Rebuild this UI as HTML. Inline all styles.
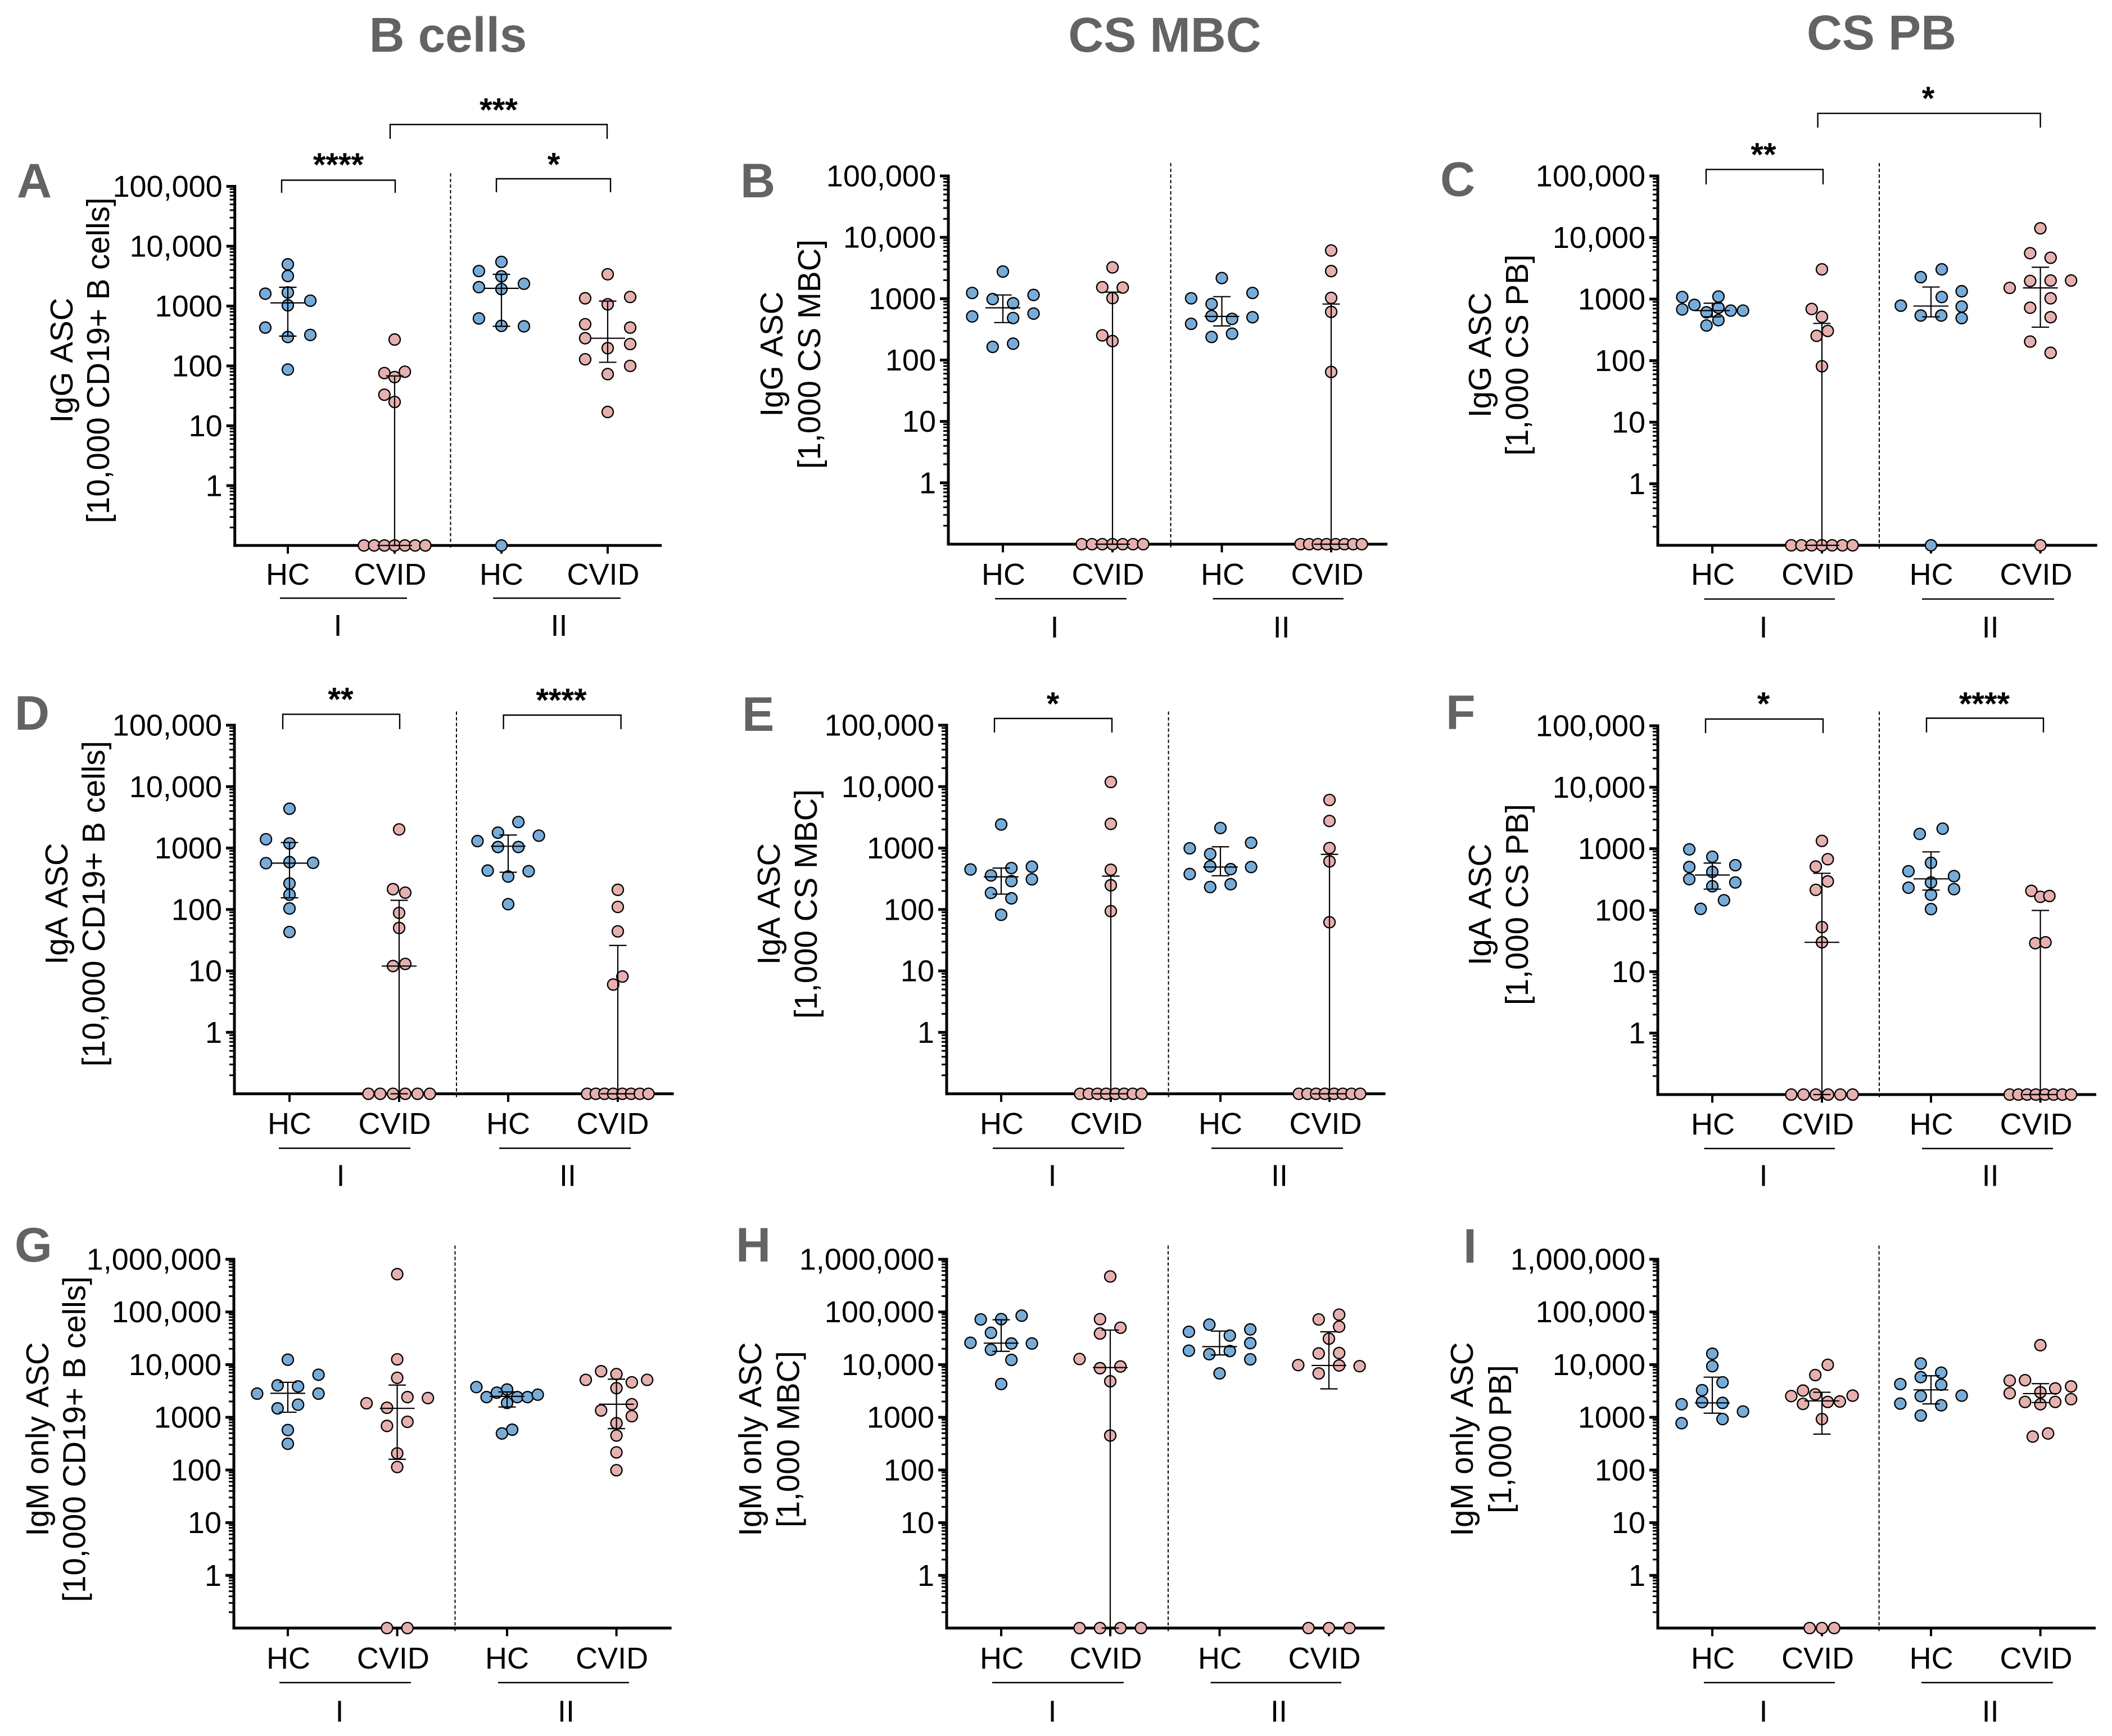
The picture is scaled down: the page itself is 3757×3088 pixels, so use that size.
<!DOCTYPE html>
<html lang="en">
<head>
<meta charset="utf-8">
<title>Antibody secreting cell counts by isotype and subset</title>
<style>
html,body{margin:0;padding:0;background:#fff;}
svg{display:block;}
text{font-family:"Liberation Sans",Arial,sans-serif;fill:#000;font-kerning:none;}
.head{font-weight:700;fill:#636363;}
</style>
</head>
<body>
<svg id="figure" xmlns="http://www.w3.org/2000/svg" width="3757" height="3088" viewBox="0 0 3757 3088">
<rect width="3757" height="3088" fill="#ffffff"/>
<text class="head" x="797" y="92" font-size="87" text-anchor="middle">B cells</text>
<text class="head" x="2072" y="92" font-size="87" text-anchor="middle">CS MBC</text>
<text class="head" x="3347" y="88" font-size="87" text-anchor="middle">CS PB</text>
</svg>
<script>
// Shared labels
const tickLabels6 = ['100,000','10,000','1000','100','10','1'];
const tickLabels7 = ['1,000,000','100,000','10,000','1000','100','10','1'];
const categories = ['HC','CVID','HC','CVID'];
const cohorts = ['I','II'];

// Panel A. Series order: HC I, CVID I, HC II, CVID II. Swarm = beeswarm column of each dot. Summary = [q1, median, q3].
const aTitle = ['IgG ASC','[10,000 CD19+ B cells]'];
const aValues = [
 [4980,3180,1610,1690,1230,1030,437,304,329,87],
 [276,76,80,65,33,25,0.1,0.1,0.1,0.1,0.1,0.1,0.1],
 [5470,3850,3140,2360,2070,1920,621,467,459,0.1],
 [3400,1350,1420,1070,497,437,290,232,198,129,100,73,17]];
const aSwarm = [
 [0,0,-2.2,0,2.2,0,-2.2,0,2.2,0],
 [0,-1,1,0,-1,0,-3,-2,-1,0,1,2,3],
 [0,-2.2,0,2.2,-2.2,0,-2.2,0,2.2,0],
 [0,-2.2,2.2,0,-2.2,2.2,-2.2,2.2,0,-2.2,2.2,0,0]];
const aSummary = [[315,1130,2060],[0.1,0.1,68],[460,1980,3390],[115,290,1210]];

// Panel B
const bTitle = ['IgG ASC','[1,000 CS MBC]'];
const bValues = [
 [2770,1240,1150,985,843,572,514,484,185,164],
 [3240,1540,1520,1020,253,204,0.1,0.1,0.1,0.1,0.1,0.1,0.1],
 [2170,1240,1015,819,522,469,499,390,269,238],
 [6100,2820,1030,610,64,0.1,0.1,0.1,0.1,0.1,0.1,0.1,0.1]];
const bSwarm = [
 [0,-3,3,-1,1,3,-3,1,1,-1],
 [0,-1,1,0,-1,0,-3,-2,-1,0,1,2,3],
 [0,3,-3,-1,-1,1,3,-3,1,-1],
 [0,0,0,0,0,-3,-2.15,-1.3,-0.45,0.45,1.3,2.15,3]];
const bSummary = [[408,711,1150],[0.1,0.1,1280],[360,514,1080],[0.1,0.1,819]];

// Panel C
const cTitle = ['IgG ASC','[1,000 CS PB]'];
const cValues = [
 [1080,680,805,1100,723,610,650,650,455,372],
 [3040,690,514,304,253,81,0.1,0.1,0.1,0.1,0.1,0.1,0.1],
 [3040,2270,1340,1080,782,757,540,540,491,0.1],
 [14100,5560,4690,1970,2000,2000,1520,1030,723,507,204,134,0.1]];
const cSwarm = [
 [-2.94,-2.94,-1.75,0.6,0.6,-0.57,1.8,3,0.6,-0.57],
 [0,-1,0,0.57,-0.52,0,-3,-2,-1,0,1,2,3],
 [1.05,-1,3,1.05,-2.95,3,-1,1,3,0],
 [0,-1,1,-1,1,3,-3,1,-1,1,-1,1,0]];
const cSummary = [[514,650,857],[0.1,0.1,402],[514,770,1570],[350,1520,3290]];

// Panel D
const dTitle = ['IgA ASC','[10,000 CD19+ B cells]'];
const dValues = [
 [4370,1390,1190,590,568,575,265,174,104,43],
 [2010,214,188,88,50,12,13,0.1,0.1,0.1,0.1,0.1,0.1],
 [2650,1780,1590,1300,1040,1040,430,420,344,122],
 [209,110,44,8.1,6,0.1,0.1,0.1,0.1,0.1,0.1,0.1,0.1]];
const dSwarm = [
 [0,-2.3,0,0,-2.3,2.3,0,0,0,0],
 [0,-0.6,0.6,0,0,-0.6,0.6,-3,-1.85,-0.6,0.6,1.8,3],
 [1,-1,3,-3,-1,1,-2,2,0,0],
 [0,0,0,0.45,-0.45,-3,-2.15,-1.3,-0.45,0.45,1.3,2.15,3]];
const dSummary = [[155,568,1230],[0.1,12,141],[404,1070,1630],[0.1,0.1,26]];

// Panel E
const eTitle = ['IgA ASC','[1,000 CS MBC]'];
const eValues = [
 [2420,448,498,472,358,290,310,186,152,82],
 [11900,2480,443,248,94,0.1,0.1,0.1,0.1,0.1,0.1,0.1,0.1],
 [2120,1220,990,800,504,454,491,378,258,232],
 [6060,2760,1000,606,62,0.1,0.1,0.1,0.1,0.1,0.1,0.1,0.1]];
const eSwarm = [
 [0,-3,3,1,-1,1,3,-1,1,0],
 [0,0,0,0,0,-3,-2.15,-1.3,-0.45,0.45,1.3,2.15,3],
 [0,3,-3,-1,-1,1,3,-3,1,-1],
 [0,0,0,0,0,-3,-2.15,-1.3,-0.45,0.45,1.3,2.15,3]];
const eSummary = [[178,340,472],[0.1,0.1,349],[354,491,1050],[0.1,0.1,790]];

// Panel F
const fTitle = ['IgA ASC','[1,000 CS PB]'];
const fValues = [
 [974,740,504,539,420,319,282,245,145,105],
 [1340,674,512,294,214,53,30,0.1,0.1,0.1,0.1,0.1,0.1],
 [2120,1740,590,430,358,282,232,220,178,104],
 [206,165,170,29,30,0.1,0.1,0.1,0.1,0.1,0.1,0.1,0.1]];
const fSwarm = [
 [-2.25,0,-2.25,2.25,0,-2.25,2.25,0,1.14,-1.14],
 [0,0.57,-0.6,0.57,-0.6,0,0,-3,-1.8,-0.6,0.6,1.8,3],
 [1.14,-1.1,0,-2.2,2.25,0,-2.2,2.25,0,0],
 [-0.88,0,0.88,-0.5,0.5,-3,-2.15,-1.3,-0.45,0.45,1.3,2.15,3]];
const fSummary = [[220,373,583],[0.1,30,398],[212,323,888],[0.1,0.1,99]];

// Panel G
const gTitle = ['IgM only ASC','[10,000 CD19+ B cells]'];
const gValues = [
 [12400,6430,4040,3860,2820,2820,1740,1480,574,315],
 [522000,12600,5620,2420,2320,1850,1520,822,687,207,114,0.1,0.1],
 [3750,3370,2940,2420,2420,2420,2690,1880,582,494],
 [7490,6620,5140,5140,4620,3580,1770,1350,1050,774,451,216,99]];
const gSwarm = [
 [0,3,-1,1,-3,3,1,-1,0,0],
 [0,0,0,1,3,-3,-1,1,-1,0,0,-1,1],
 [-3,0,-1,-2,1,2,3,0,0.5,-0.5],
 [-1.5,0,-3,3,1.5,0,1.5,-1.5,1.5,0,0,0,0]];
const gSummary = [[1250,2860,4620],[160,1480,4100],[1570,2500,3030],[610,1770,5300]];

// Panel H
const hTitle = ['IgM only ASC','[1,000 MBC]'];
const hValues = [
 [85000,72100,73100,40200,26000,25200,25200,19200,12300,4290],
 [471000,73100,50200,39000,12800,9220,8550,4830,451,0.1,0.1,0.1,0.1],
 [57500,46600,42000,35600,25600,18400,18100,15800,12600,6820],
 [88900,72100,52600,31100,16300,16600,9800,9640,9360,6820,0.1,0.1,0.1]];
const hSwarm = [
 [2,-2,0,-1,-3,3,1,-1,1,0],
 [0,-1,1,-1,-3,1,-1,0,0,-3,-1,1,3],
 [-1,3,-3,1,3,-3,1,-1,3,0],
 [1,-1,1,0,-1,1,-3,1,3,-1,-2,0,2]];
const hSummary = [[17900,25600,71000],[0.1,8800,45300],[15300,22000,43300],[3470,9640,42000]];

// Panel I
const iTitle = ['IgM only ASC','[1,000 PB]'];
const iValues = [
 [16100,9360,4620,3270,1770,1940,1880,1290,927,774],
 [9930,6340,3220,2730,2530,2580,1960,2000,1800,927,0.1,0.1,0.1],
 [10500,7030,5790,4160,4280,2580,2530,1820,1690,1080],
 [23400,4990,5060,3860,3530,2990,2860,1960,1960,2210,1770,494,431]];
const iSwarm = [
 [0,0,1,-1,-3,-1,1,3,1,-3],
 [0.57,-0.65,-1.85,-0.65,-3,3,0.57,1.75,-1.85,0,-1.2,0,1.2],
 [-1,1,-1,1,-3,3,-1,-3,1,-1],
 [0,-3,-1.5,3,1.45,0,-3,-1.5,1.45,3,0,0.75,-0.75]];
const iSummary = [[1200,1880,5790],[480,2050,2990],[1800,3320,6150],[1910,2820,4360]];

// Layout of each panel frame (not data)
const panels = [
 {key:'a',letter:'A',lx:30,lb:351,tickLabels:tickLabels6,title:aTitle,values:aValues,swarm:aSwarm,summary:aSummary,
  ax:417.7,top:331.5,bot:970.3,right:1177,cats:[512,702,892,1081],dash:801.5,dashTop:308,labelX:[512,694,892,1073],labelY:1021,ulY:1064,ul:[[498,724],[877,1104]],romanX:[601,994.5],romanY:1112,t1:129,t2:194,tc:641,
  br:[{x1:501,x2:703,t:320.5,b:343,s:'****',sx:602,sy:288},{x1:883,x2:1086,t:318,b:342,s:'*',sx:985,sy:287.5},{x1:694,x2:1080,t:221.5,b:247,s:'***',sx:887,sy:190.7}]},
 {key:'b',letter:'B',lx:1317,lb:351,tickLabels:tickLabels6,title:bTitle,values:bValues,swarm:bSwarm,summary:bSummary,
  ax:1687,top:313,bot:968,right:2468,cats:[1784,1979,2173.5,2368],dash:2082.6,dashTop:290,labelX:[1785,1971,2175,2361],labelY:1021,ulY:1065,ul:[[1770,2004],[2157.5,2390]],romanX:[1876,2279.6],romanY:1115,t1:1392,t2:1459,tc:630,br:[]},
 {key:'c',letter:'C',lx:2562,lb:348.4,tickLabels:tickLabels6,title:cTitle,values:cValues,swarm:cSwarm,summary:cSummary,
  ax:2949,top:313,bot:970,right:3730.6,cats:[3046,3241,3435,3629.6],dash:3343,dashTop:290,labelX:[3047,3233.6,3435.6,3622],labelY:1021,ulY:1065.6,ul:[[3031.5,3264],[3419,3654]],romanX:[3137,3540.6],romanY:1115,t1:2652,t2:2718,tc:631.5,
  br:[{x1:3035,x2:3243,t:301.4,b:328,s:'**',sx:3137,sy:270},{x1:3233.6,x2:3629.6,t:201.7,b:227,s:'*',sx:3430,sy:170}]},
 {key:'d',letter:'D',lx:26,lb:1298,tickLabels:tickLabels6,title:dTitle,values:dValues,swarm:dSwarm,summary:dSummary,
  ax:417,top:1290,bot:1945.6,right:1198.6,cats:[515,710,904,1099],dash:812,dashTop:1265.6,labelX:[515,702,904,1090],labelY:1998,ulY:2042.5,ul:[[496,730],[888,1122]],romanX:[606,1010],romanY:2090.6,t1:120,t2:186,tc:1607.5,
  br:[{x1:503,x2:711,t:1270.6,b:1297,s:'**',sx:606,sy:1239},{x1:895.6,x2:1104.6,t:1272,b:1297,s:'****',sx:998.5,sy:1240.6}]},
 {key:'e',letter:'E',lx:1320,lb:1300,tickLabels:tickLabels6,title:eTitle,values:eValues,swarm:eSwarm,summary:eSummary,
  ax:1684,top:1290,bot:1945.6,right:2464.6,cats:[1781,1976,2171,2365],dash:2078.6,dashTop:1265.6,labelX:[1782,1968,2171,2358],labelY:1998,ulY:2042.5,ul:[[1766,2000],[2155,2389]],romanX:[1872,2276],romanY:2090.6,t1:1387,t2:1453,tc:1608,
  br:[{x1:1769,x2:1978,t:1278,b:1303,s:'*',sx:1873,sy:1247}]},
 {key:'f',letter:'F',lx:2572,lb:1297,tickLabels:tickLabels6,title:fTitle,values:fValues,swarm:fSwarm,summary:fSummary,
  ax:2949,top:1291,bot:1947,right:3729,cats:[3046,3241,3435,3629.6],dash:3343,dashTop:1265.6,labelX:[3047,3233.6,3435.6,3622],labelY:1999,ulY:2043,ul:[[3031.5,3264],[3419,3652]],romanX:[3137,3540.6],romanY:2090.6,t1:2652,t2:2718,tc:1609,
  br:[{x1:3034,x2:3243,t:1279,b:1304,s:'*',sx:3137,sy:1247},{x1:3427,x2:3635,t:1277.5,b:1303,s:'****',sx:3530,sy:1247}]},
 {key:'g',letter:'G',lx:26,lb:2244,tickLabels:tickLabels7,title:gTitle,values:gValues,swarm:gSwarm,summary:gSummary,
  ax:416,top:2240,bot:2896,right:1194.6,cats:[512,706.6,902,1096.6],dash:809.5,dashTop:2215.5,labelX:[513,699.4,902,1088.6],labelY:2949,ulY:2993,ul:[[497,731],[886,1119]],romanX:[604,1007],romanY:3043.4,t1:86,t2:151.5,tc:2560,br:[]},
 {key:'h',letter:'H',lx:1309,lb:2244,tickLabels:tickLabels7,title:hTitle,values:hValues,swarm:hSwarm,summary:hSummary,
  ax:1684,top:2240,bot:2896,right:2463,cats:[1781,1975,2169.5,2364],dash:2078,dashTop:2215.5,labelX:[1782,1967,2170,2356],labelY:2949,ulY:2993,ul:[[1765,1999],[2153.6,2386]],romanX:[1872,2275],romanY:3043.4,t1:1354,t2:1421.5,tc:2560,br:[]},
 {key:'i',letter:'I',lx:2603,lb:2246,tickLabels:tickLabels7,title:iTitle,values:iValues,swarm:iSwarm,summary:iSummary,
  ax:2949,top:2240,bot:2896,right:3728,cats:[3046,3241,3435,3629.6],dash:3342.6,dashTop:2215.5,labelX:[3047,3233.6,3435.6,3622],labelY:2949,ulY:2993,ul:[[3031,3264],[3418,3652]],romanX:[3137,3540.6],romanY:3043.4,t1:2620,t2:2688,tc:2560,br:[]}
];

const SVG_NS = 'http://www.w3.org/2000/svg';
const FILLS = ['#78acd8','#e6b0ae','#78acd8','#e6b0ae'];
const SWARM_UNIT = 18.2;
const Y_MIN_LOG = -1;

function make(parent, tag, attrs, content) {
  const el = document.createElementNS(SVG_NS, tag);
  for (const k in attrs) el.setAttribute(k, attrs[k]);
  if (content !== undefined) el.textContent = content;
  parent.appendChild(el);
  return el;
}
function line(parent, x1, y1, x2, y2, w) {
  return make(parent, 'line', {x1:x1, y1:y1, x2:x2, y2:y2, stroke:'#000', 'stroke-width':w});
}

const root = document.getElementById('figure');

panels.forEach(function (p) {
  const decades = p.tickLabels.length;
  const yScale = function (v) {
    return p.bot - (Math.log10(v) - Y_MIN_LOG) * (p.bot - p.top) / decades;
  };
  const xScale = function (group, unit) {
    return p.cats[group] + unit * SWARM_UNIT;
  };

  const g = make(root, 'g', {});
  
  

  const letter = make(g, 'text', {x:p.lx, y:p.lb, 'font-size':86, 'class':'head'}, p.letter);
  
  

  // y axis
  const yAxis = make(g, 'g', {});
  
  
  line(yAxis, p.ax, p.top - 2.5, p.ax, p.bot + 2.5, 5);
  for (let k = 0; k < decades; k++) {
    const base = Math.pow(10, Y_MIN_LOG + k);
    for (let m = 2; m <= 9; m++) {
      const my = yScale(base * m);
      line(yAxis, p.ax - 9, my, p.ax, my, 3);
    }
  }
  p.tickLabels.forEach(function (label, i) {
    const ty = yScale(Math.pow(10, decades + Y_MIN_LOG - i));
    line(yAxis, p.ax - 15, ty, p.ax, ty, 5);
    const tickText = make(yAxis, 'text', {x:p.ax - 22, y:ty + 18.5, 'font-size':54, 'text-anchor':'end'}, label);
    
    
  });

  // y axis title
  const yT1 = make(g, 'text', {x:p.t1, y:p.tc, 'font-size':56.5, 'text-anchor':'middle', transform:'rotate(-90 ' + p.t1 + ' ' + p.tc + ')'}, p.title[0]);
  
  
  const yT2 = make(g, 'text', {x:p.t2, y:p.tc, 'font-size':56.5, 'text-anchor':'middle', transform:'rotate(-90 ' + p.t2 + ' ' + p.tc + ')'}, p.title[1]);
  
  

  // x axis
  const xAxis = make(g, 'g', {});
  
  
  line(xAxis, p.ax - 2.5, p.bot, p.right, p.bot, 5);
  p.cats.forEach(function (cx) { line(xAxis, cx, p.bot, cx, p.bot + 14.5, 4); });
  categories.forEach(function (label, i) {
    const cat = make(xAxis, 'text', {x:p.labelX[i], y:p.labelY + 19, 'font-size':54, 'text-anchor':'middle'}, label);
    
    
  });
  cohorts.forEach(function (label, i) {
    const ul = line(xAxis, p.ul[i][0], p.ulY, p.ul[i][1], p.ulY, 2.4);
    
    
    const rom = make(xAxis, 'text', {x:p.romanX[i], y:p.romanY + 19, 'font-size':54, 'text-anchor':'middle'}, label);
    
    
  });

  // cohort divider
  const divider = make(g, 'line', {x1:p.dash, y1:p.dashTop, x2:p.dash, y2:p.bot + 6, stroke:'#000', 'stroke-width':2, 'stroke-dasharray':'6 4'});
  
  

  // data points
  p.values.forEach(function (series, gi) {
    const sg = make(g, 'g', {});
    
    
    series.forEach(function (v, i) {
      const dot = make(sg, 'circle', {cx:xScale(gi, p.swarm[gi][i]), cy:yScale(v), r:10, fill:FILLS[gi], stroke:'#000', 'stroke-width':2.3});
      
      
    });
  });

  // median and interquartile error bars
  p.summary.forEach(function (s, gi) {
    const cx = p.cats[gi];
    const eb = make(g, 'g', {});
    
    
    line(eb, cx, yScale(s[0]), cx, yScale(s[2]), 2.2);
    line(eb, cx - 15.5, yScale(s[0]), cx + 15.5, yScale(s[0]), 2.2);
    line(eb, cx - 15.5, yScale(s[2]), cx + 15.5, yScale(s[2]), 2.2);
    line(eb, cx - 31, yScale(s[1]), cx + 31, yScale(s[1]), 2.2);
  });

  // significance brackets
  p.br.forEach(function (b) {
    const sig = make(g, 'g', {});
    
    
    make(sig, 'path', {d:'M' + b.x1 + ' ' + b.b + 'V' + b.t + 'H' + b.x2 + 'V' + b.b, fill:'none', stroke:'#000', 'stroke-width':2.4});
    const star = make(sig, 'text', {x:b.sx, y:b.sy + 25, 'font-size':58, 'font-weight':700, 'text-anchor':'middle'}, b.s);
    
    
  });
});
</script>
</body>
</html>
